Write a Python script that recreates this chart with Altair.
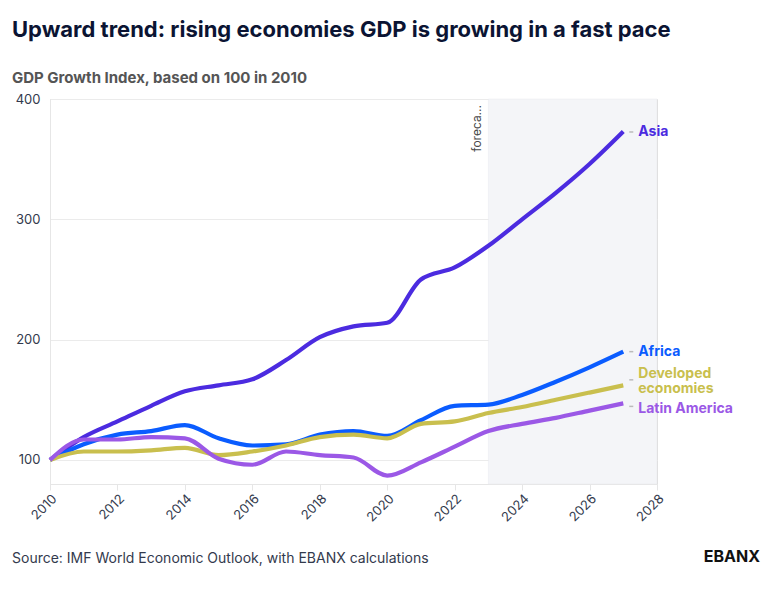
import altair as alt
import pandas as pd

years = list(range(2010, 2028))
asia = [100, 119, 132, 145, 157, 162, 167, 183, 202, 211, 214, 250, 260, 278, 300, 322, 346, 373]
africa = [100, 113, 121, 124, 129, 118, 112, 113, 121, 124, 120, 133, 145, 146, 154, 165, 177, 190]
developed = [100, 107, 107, 108, 110, 104, 107, 112, 119, 121, 118, 130, 132, 139, 144, 150, 156, 162]
latam = [100, 117, 117, 119, 118, 101, 96, 107, 104, 102, 87, 98, 111, 124, 130, 135, 141, 147]

series_names = ["Asia", "Africa", "Developed economies", "Latin America"]
series_values = [asia, africa, developed, latam]
colors = ["#4B2BE0", "#0A5CFF", "#C9BF4E", "#9B58E6"]
label_texts = ["Asia", "Africa", "Developed\neconomies", "Latin America"]
label_dy = [1, 0, -11, 6]

forecast_start = 2023
forecast_end = 2028
forecast_label = "foreca..."

title = "Upward trend: rising economies GDP is growing in a fast pace"
subtitle = "GDP Growth Index, based on 100 in 2010"
source = "Source: IMF World Economic Outlook, with EBANX calculations"

rows = []
for name, vals in zip(series_names, series_values):
    for y, v in zip(years, vals):
        rows.append({"year": y, "value": v, "series": name})
df = pd.DataFrame(rows)

W, H = 607, 385
FONT = "Inter"

xscale = alt.Scale(domain=[2010, 2028], nice=False, zero=False)
yscale = alt.Scale(domain=[80, 400], nice=False, zero=False)
cscale = alt.Scale(domain=series_names, range=colors)

band = alt.Chart(pd.DataFrame({"s": [forecast_start], "e": [forecast_end]})).mark_rect(
    fill="#F4F5F8", stroke="#E8E9EE", strokeWidth=0.5
).encode(
    x=alt.X("s:Q", scale=xscale),
    x2="e:Q",
    y=alt.value(0),
    y2=alt.value(H),
)

flabel = alt.Chart(pd.DataFrame({"s": [forecast_start], "t": [forecast_label]})).mark_text(
    angle=270, align="right", baseline="bottom", dx=-6, dy=-4, fontSize=12, color="#4A4A4A", font=FONT
).encode(x=alt.X("s:Q", scale=xscale), y=alt.value(0), text="t:N")

lines = alt.Chart(df).mark_line(strokeWidth=4.2, interpolate="monotone").encode(
    x=alt.X(
        "year:Q",
        scale=xscale,
        axis=alt.Axis(
            values=list(range(2010, 2029, 2)),
            format="d",
            labelAngle=-45,
            grid=False,
            title=None,
            domainColor="#E6E6E6",
            tickColor="#E6E6E6",
            tickSize=6,
            labelFontSize=13,
            labelColor="#333A4D",
            labelFont=FONT,
            labelPadding=2,
        ),
    ),
    y=alt.Y(
        "value:Q",
        scale=yscale,
        axis=alt.Axis(
            values=[100, 200, 300, 400],
            title=None,
            gridColor="#EBEBEB",
            domainColor="#E6E6E6",
            ticks=False,
            labelFontSize=13,
            labelColor="#333A4D",
            labelFont=FONT,
            labelPadding=10,
        ),
    ),
    color=alt.Color("series:N", scale=cscale, legend=None),
    detail="series:N",
)

layers = [band, flabel, lines]
for name, vals, col, txt, dy in zip(series_names, series_values, colors, label_texts, label_dy):
    d = pd.DataFrame({"year": [years[-1]], "value": [vals[-1]], "t": [txt]})
    layers.append(
        alt.Chart(d).mark_rule(xOffset=6, x2Offset=10, yOffset=dy / 2, y2Offset=dy / 2, color="#BBBBBB", strokeWidth=1.5).encode(
            x=alt.X("year:Q", scale=xscale), x2="year:Q", y=alt.Y("value:Q", scale=yscale), y2="value:Q"
        )
    )
    layers.append(
        alt.Chart(d).mark_text(
            align="left", baseline="middle", dx=15, dy=dy, fontSize=14, fontWeight="bold",
            color=col, font=FONT, lineBreak="\n", lineHeight=15
        ).encode(x=alt.X("year:Q", scale=xscale), y=alt.Y("value:Q", scale=yscale), text="t:N")
    )

foot = alt.Chart(pd.DataFrame({"t": [source]})).mark_text(
    align="left", baseline="middle", fontSize=14, color="#333A4D", font=FONT
).encode(x=alt.value(-38), y=alt.value(460), text="t:N")

logo = alt.Chart(pd.DataFrame({"t": ["EBANX"]})).mark_text(
    align="right", baseline="middle", fontSize=16, fontWeight="bold", color="#111111", font=FONT
).encode(x=alt.value(710), y=alt.value(458), text="t:N")

layers += [foot, logo]

chart = alt.layer(*layers).properties(
    width=W,
    height=H,
    padding={"left": 12, "top": 19, "right": 10, "bottom": 10},
    title=alt.TitleParams(
        text=title,
        subtitle=subtitle,
        anchor="start",
        frame="bounds",
        fontSize=22,
        fontWeight="bold",
        color="#0B1433",
        font=FONT,
        subtitleFont=FONT,
        subtitleFontSize=15,
        subtitleFontWeight="bold",
        subtitleColor="#555555",
        subtitlePadding=29,
        offset=6,
    ),
).configure_view(stroke=None).configure(background="white")

chart.save("out.html", embed_options={"renderer": "svg", "actions": False})
